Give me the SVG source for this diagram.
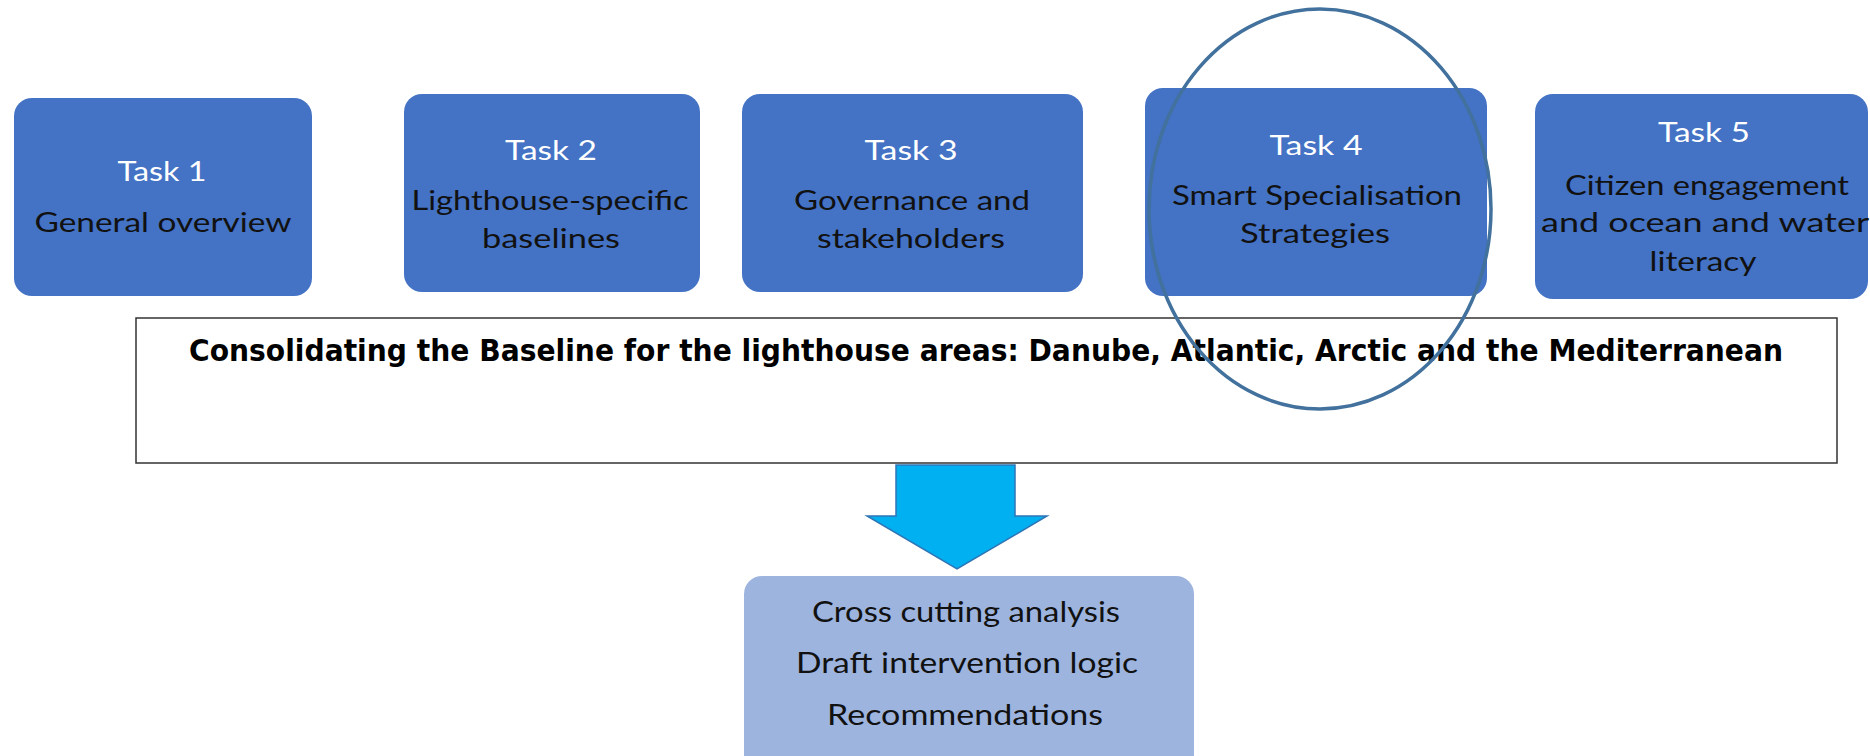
<svg xmlns="http://www.w3.org/2000/svg" width="1870" height="756" viewBox="0 0 1870 756">
  <style>
    .task { fill: #4472c4; }
    .head { font-family: Lato, "Liberation Sans", sans-serif; font-size: 26px; fill: #ffffff; text-anchor: middle; }
    .body { font-family: Lato, "Liberation Sans", sans-serif; font-size: 26px; fill: #111111; text-anchor: middle; }
    .banner { font-family: "DejaVu Sans", "Liberation Sans", sans-serif; font-weight: bold; font-size: 30px; fill: #000000; text-anchor: middle; }
    .result { font-family: Lato, "Liberation Sans", sans-serif; font-size: 28px; fill: #111111; text-anchor: middle; }
  </style>
  <rect width="1870" height="756" fill="#ffffff"/>

  <g id="task1">
    <rect class="task" x="14" y="98" width="298" height="198" rx="18"/>
    <text class="head" x="162" y="181" textLength="89" lengthAdjust="spacingAndGlyphs">Task 1</text>
    <text class="body" x="163" y="232" textLength="257" lengthAdjust="spacingAndGlyphs">General overview</text>
  </g>

  <g id="task2">
    <rect class="task" x="404" y="94" width="296" height="198" rx="18"/>
    <text class="head" x="551" y="160" textLength="92" lengthAdjust="spacingAndGlyphs">Task 2</text>
    <text class="body" x="550" y="210" textLength="277" lengthAdjust="spacingAndGlyphs">Lighthouse-specific</text>
    <text class="body" x="551" y="248" textLength="138" lengthAdjust="spacingAndGlyphs">baselines</text>
  </g>

  <g id="task3">
    <rect class="task" x="742" y="94" width="341" height="198" rx="18"/>
    <text class="head" x="911" y="160" textLength="93" lengthAdjust="spacingAndGlyphs">Task 3</text>
    <text class="body" x="912" y="210" textLength="236" lengthAdjust="spacingAndGlyphs">Governance and</text>
    <text class="body" x="911" y="248" textLength="188" lengthAdjust="spacingAndGlyphs">stakeholders</text>
  </g>

  <g id="task4">
    <rect class="task" x="1145" y="88" width="342" height="208" rx="18"/>
    <text class="head" x="1316" y="155" textLength="93" lengthAdjust="spacingAndGlyphs">Task 4</text>
    <text class="body" x="1317" y="205" textLength="290" lengthAdjust="spacingAndGlyphs">Smart Specialisation</text>
    <text class="body" x="1315" y="243" textLength="150" lengthAdjust="spacingAndGlyphs">Strategies</text>
  </g>

  <g id="task5">
    <rect class="task" x="1535" y="94" width="333" height="205" rx="18"/>
    <text class="head" x="1704" y="142" textLength="92" lengthAdjust="spacingAndGlyphs">Task 5</text>
    <text class="body" x="1707" y="195" textLength="284" lengthAdjust="spacingAndGlyphs">Citizen engagement</text>
    <text class="body" x="1705" y="232" textLength="328" lengthAdjust="spacingAndGlyphs">and ocean and water</text>
    <text class="body" x="1703" y="271" textLength="107" lengthAdjust="spacingAndGlyphs">literacy</text>
  </g>

  <g id="baseline">
    <rect x="136" y="318" width="1701" height="145" fill="#ffffff" stroke="#333333" stroke-width="1.5"/>
    <text class="banner" x="986" y="361" textLength="1594" lengthAdjust="spacingAndGlyphs">Consolidating the Baseline for the lighthouse areas: Danube, Atlantic, Arctic and the Mediterranean</text>
  </g>

  <g id="connectors">
    <path d="M896 465 H1015 V516 H1047 L957 569 L867 516 H896 Z" fill="#00b0f0" stroke="#2e75b6" stroke-width="1.5"/>
  </g>

  <g id="outputs">
    <rect x="744" y="576" width="450" height="200" rx="18" fill="#9db4df"/>
    <text class="result" x="966" y="622" textLength="308" lengthAdjust="spacingAndGlyphs">Cross cutting analysis</text>
    <text class="result" x="967" y="673" textLength="342" lengthAdjust="spacingAndGlyphs">Draft intervention logic</text>
    <text class="result" x="965" y="725" textLength="276" lengthAdjust="spacingAndGlyphs">Recommendations</text>
  </g>

  <g id="highlight">
    <ellipse cx="1320" cy="209" rx="171" ry="200" fill="none" stroke="#41719c" stroke-width="3.5"/>
  </g>
</svg>
